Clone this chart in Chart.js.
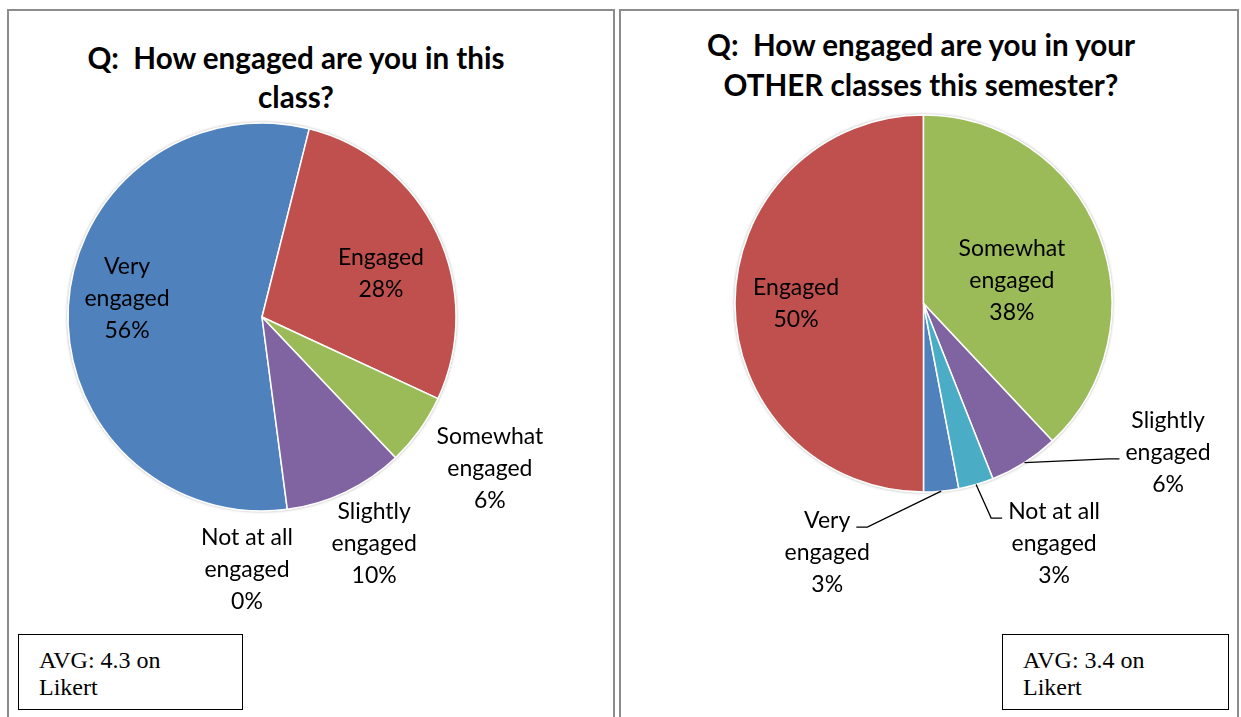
<!DOCTYPE html>
<html>
<head>
<meta charset="utf-8">
<script src="https://cdn.jsdelivr.net/npm/chart.js@4.4.1/dist/chart.umd.min.js"></script>
<style>
  html, body { margin: 0; padding: 0; background: #fff; }
  body { width: 1241px; height: 717px; position: relative; overflow: hidden; }
  .panel { position: absolute; top: 9px; height: 760px; border: 2px solid #8c8c8c; box-sizing: border-box; }
  .title { position: absolute; font-family: Lato, "Open Sans", sans-serif; font-weight: 700; font-size: 29.6px;
           text-align: center; color: #000; white-space: pre; }
  .avg { position: absolute; top: 634px; height: 76px; border: 1.7px solid #000; box-sizing: border-box;
         font-family: "Liberation Serif", "Times New Roman", serif; font-size: 24px; line-height: 27px;
         color: #000; padding: 12px 0 0 20px; white-space: pre; background: #fff; }
  canvas { position: absolute; }
</style>
</head>
<body>
<div class="panel" id="panelA" style="left:7px;width:608px;"></div>
<div class="panel" id="panelB" style="left:619px;width:620px;"></div>

<div class="title" id="titleA" style="left:46px;width:500px;top:38px;line-height:39px;"></div>
<div class="title" id="titleB" style="left:671px;width:500px;top:25px;line-height:40px;"></div>

<canvas id="chartA"></canvas>
<canvas id="chartB"></canvas>

<div class="avg" id="avgA" style="left:18px;width:225px;"></div>
<div class="avg" id="avgB" style="left:1002px;width:227px;"></div>

<script>
// ---- survey data (percent of respondents) ----
const categories = ['Very engaged', 'Engaged', 'Somewhat engaged', 'Slightly engaged', 'Not at all engaged'];
const labelLines = [['Very', 'engaged'], ['Engaged'], ['Somewhat', 'engaged'], ['Slightly', 'engaged'], ['Not at all', 'engaged']];
const thisClassPct = [56, 28, 6, 10, 0];
const otherClassesPct = [3, 50, 38, 6, 3];
const avgThisClass = 4.3;
const avgOtherClasses = 3.4;
const titleThisClass = 'Q:  How engaged are you in this\nclass?';
const titleOtherClasses = 'Q:  How engaged are you in your\nOTHER classes this semester?';
const sliceColors = ['#4F81BD', '#C0504D', '#9BBB59', '#8064A2', '#4BACC6'];

document.getElementById('titleA').textContent = titleThisClass;
document.getElementById('titleB').textContent = titleOtherClasses;
document.getElementById('avgA').textContent = 'AVG: ' + avgThisClass.toFixed(1) + ' on\nLikert';
document.getElementById('avgB').textContent = 'AVG: ' + avgOtherClasses.toFixed(1) + ' on\nLikert';

const LABEL_FONT = '23px Lato, "Open Sans", sans-serif';
const LINE_H = 32;

// Soft grey rim under the pie, like an Office outer shadow
const rimPlugin = {
  id: 'rim',
  beforeDatasetsDraw(chart) {
    const arc = chart.getDatasetMeta(0).data[0];
    if (!arc) return;
    const ctx = chart.ctx;
    ctx.save();
    ctx.beginPath();
    ctx.arc(arc.x, arc.y, arc.outerRadius + 0.6, 0, Math.PI * 2);
    ctx.shadowColor = 'rgba(0,0,0,0.35)';
    ctx.shadowBlur = 3;
    ctx.fillStyle = '#ffffff';
    ctx.fill();
    ctx.restore();
  }
};

// Category + percent labels, placed around each slice's mid angle
const sliceLabelPlugin = {
  id: 'sliceLabels',
  afterDatasetsDraw(chart, args, opts) {
    const ctx = chart.ctx;
    const meta = chart.getDatasetMeta(0);
    const values = chart.data.datasets[0].data;
    ctx.save();
    ctx.font = LABEL_FONT;
    ctx.fillStyle = '#000';
    ctx.textAlign = 'center';
    ctx.textBaseline = 'middle';
    meta.data.forEach((arc, i) => {
      const place = opts.placement[i];
      const R = arc.outerRadius;
      const mid = (arc.startAngle + arc.endAngle) / 2;
      const a = mid + place.shift * Math.PI / 180;
      const cx = arc.x + Math.cos(a) * R * place.k;
      const cy = arc.y + Math.sin(a) * R * place.k;
      const lines = labelLines[i].concat([values[i] + '%']);
      const y0 = cy - (lines.length - 1) / 2 * LINE_H;
      lines.forEach((t, j) => ctx.fillText(t, cx, y0 + j * LINE_H));

      if (place.leader) {
        const row = place.leader.row;
        const w = ctx.measureText(lines[row]).width;
        const ty = y0 + row * LINE_H + 6;
        const dir = place.leader.side === 'left' ? -1 : 1;
        const tx = cx + dir * (w / 2 + 6);
        const ex = tx + dir * 11;
        const sx = arc.x + Math.cos(mid) * R;
        const sy = arc.y + Math.sin(mid) * R;
        ctx.beginPath();
        ctx.moveTo(sx, sy);
        ctx.lineTo(ex, ty);
        ctx.lineTo(tx, ty);
        ctx.strokeStyle = '#000';
        ctx.lineWidth = 1.3;
        ctx.stroke();
      }
    });
    ctx.restore();
  }
};

function makePie(canvasId, box, pie, values, rotation, placement) {
  const cv = document.getElementById(canvasId);
  cv.width = box.w; cv.height = box.h;
  cv.style.left = box.x + 'px'; cv.style.top = box.y + 'px';
  cv.style.width = box.w + 'px'; cv.style.height = box.h + 'px';
  const pad = {
    left: pie.cx - box.x - pie.r,
    top: pie.cy - box.y - pie.r,
    right: box.x + box.w - (pie.cx + pie.r),
    bottom: box.y + box.h - (pie.cy + pie.r)
  };
  return new Chart(cv, {
    type: 'pie',
    data: {
      labels: categories,
      datasets: [{
        data: values,
        backgroundColor: sliceColors,
        borderColor: '#ffffff',
        borderWidth: 1.5
      }]
    },
    options: {
      responsive: false,
      animation: false,
      devicePixelRatio: 1,
      rotation: rotation,
      radius: pie.r,
      layout: { padding: pad },
      plugins: {
        legend: { display: false },
        tooltip: { enabled: false },
        title: { display: false },
        sliceLabels: { placement: placement }
      }
    },
    plugins: [rimPlugin, sliceLabelPlugin]
  });
}

makePie('chartA', { x: 10, y: 110, w: 602, h: 520 }, { cx: 262, cy: 317, r: 194 },
  thisClassPct, 172.5, [
    { k: 0.702, shift: 4.3 },
    { k: 0.652, shift: 5.6 },
    { k: 1.412, shift: -2.0 },
    { k: 1.305, shift: -0.8 },
    { k: 1.306, shift: 10.9 }
  ]);

makePie('chartB', { x: 622, y: 105, w: 612, h: 525 }, { cx: 923.5, cy: 303.5, r: 188.5 },
  otherClassesPct, 169.2, [
    { k: 1.419, shift: 26.5, leader: { side: 'right', row: 0 } },
    { k: 0.676, shift: 0 },
    { k: 0.484, shift: 7.3 },
    { k: 1.520, shift: -26.2, leader: { side: 'left', row: 1 } },
    { k: 1.452, shift: -12.3, leader: { side: 'left', row: 0 } }
  ]);
</script>
</body>
</html>
